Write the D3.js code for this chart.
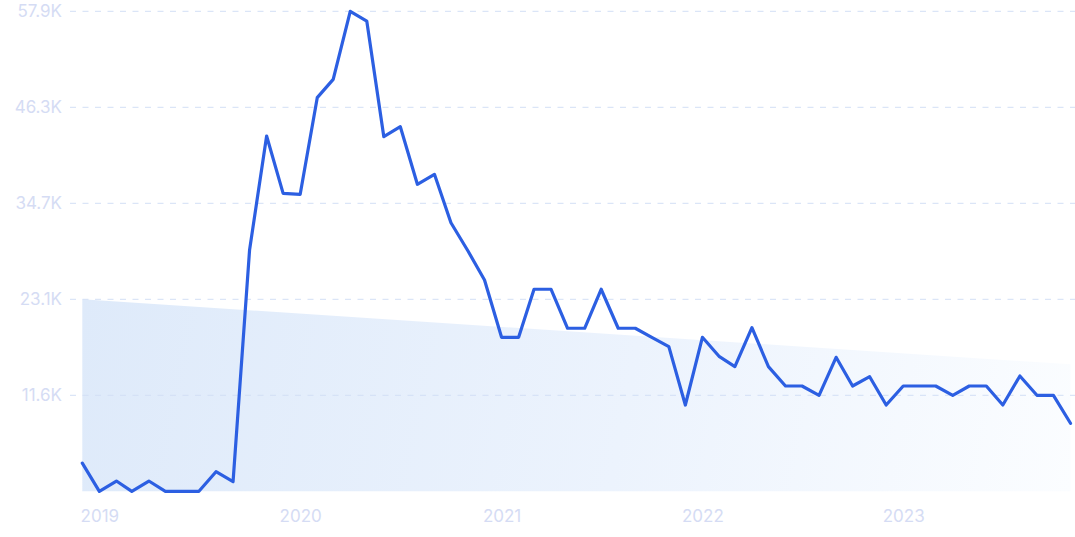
<!DOCTYPE html>
<html>
<head>
<meta charset="utf-8">
<script src="https://cdn.jsdelivr.net/npm/d3@7"></script>
<style>
  html, body { margin: 0; padding: 0; background: #ffffff; }
  svg { display: block; }
  text { font-family: Inter, "Noto Sans", sans-serif; }
</style>
</head>
<body>
<svg id="chart" width="1075" height="537"></svg>
<script>
// ---- data ----
const startMonth = "2018-12";
const values = [
  3400, 0, 1240, 0, 1240, 0, 0, 0, 2360, 1160,
  29080, 42820, 35900, 35790, 47440, 49650, 57850, 56680, 42740, 43940,
  37000, 38200, 32370, 28960, 25470, 18560, 18560, 24350, 24350, 19650,
  19650, 24350, 19650, 19650, 18560, 17430, 10400, 18560, 16220, 15020,
  19720, 15020, 12690, 12690, 11570, 16150, 12690, 13810, 10400, 12690,
  12690, 12690, 11570, 12690, 12690, 10400, 13900, 11570, 11570, 8200
];
const trendStart = 23140;
const trendEnd = 15300;
const yMax = 57850;
const yTickLabels = ["11.6K", "23.1K", "34.7K", "46.3K", "57.9K"];
const xTickYears = [2019, 2020, 2021, 2022, 2023];

// ---- build ----
(function () {
const parse = d3.timeParse("%Y-%m");
const d0 = parse(startMonth);
const data = values.map((v, i) => ({ date: d3.timeMonth.offset(d0, i), value: v }));

const svg = d3.select("#chart");
const mLeft = 82.3, mRight = 1070.5, mTop = 11.3, mBottom = 491.3;

const x = d3.scaleTime()
  .domain([data[0].date, data[data.length - 1].date])
  .range([mLeft, mRight]);
const y = d3.scaleLinear().domain([0, yMax]).range([mBottom, mTop]);

const defs = svg.append("defs");
const grad = defs.append("linearGradient")
  .attr("id", "areaGrad")
  .attr("gradientUnits", "userSpaceOnUse")
  .attr("x1", mLeft).attr("y1", y(trendStart))
  .attr("x2", mRight).attr("y2", mBottom);
grad.append("stop").attr("offset", "0%").attr("stop-color", "#deeafa");
grad.append("stop").attr("offset", "55%").attr("stop-color", "#ecf3fd");
grad.append("stop").attr("offset", "100%").attr("stop-color", "#fbfdff");

// trend area
const trend = [
  { date: data[0].date, value: trendStart },
  { date: data[data.length - 1].date, value: trendEnd }
];
svg.append("path")
  .datum(trend)
  .attr("fill", "url(#areaGrad)")
  .attr("d", d3.area().x(d => x(d.date)).y0(mBottom).y1(d => y(d.value)));

// gridlines + y labels
const yTicks = yTickLabels.map((l, i) => ({ label: l, value: yMax * (i + 1) / 5 }));
const yAxis = d3.axisLeft(y)
  .tickValues(yTicks.map(d => d.value))
  .tickFormat((d, i) => yTicks[i].label)
  .tickSize(0)
  .tickPadding(0);
const gy = svg.append("g").attr("transform", "translate(62,0)").call(yAxis);
gy.select(".domain").remove();
gy.selectAll("text")
  .attr("fill", "#d5dcf4")
  .attr("font-size", "17px")
  .attr("font-family", "Inter, 'Noto Sans', sans-serif");

svg.append("g").selectAll("line")
  .data(yTicks)
  .join("line")
  .attr("x1", 70).attr("x2", 1075)
  .attr("y1", d => y(d.value)).attr("y2", d => y(d.value))
  .attr("stroke", "#d3dff5")
  .attr("stroke-width", 1)
  .attr("stroke-dasharray", "6 6.5");

// x axis
const xAxis = d3.axisBottom(x)
  .tickValues(xTickYears.map(yr => new Date(yr, 0, 1)))
  .tickFormat(d3.timeFormat("%Y"))
  .tickSize(0)
  .tickPadding(0);
const gx = svg.append("g").attr("transform", "translate(0,510)").call(xAxis);
gx.select(".domain").remove();
gx.selectAll("text")
  .attr("fill", "#d5dcf4")
  .attr("font-size", "17px")
  .attr("font-family", "Inter, 'Noto Sans', sans-serif");

// line
svg.append("path")
  .datum(data)
  .attr("fill", "none")
  .attr("stroke", "#2c5fe2")
  .attr("stroke-width", 3.2)
  .attr("stroke-linejoin", "round")
  .attr("stroke-linecap", "round")
  .attr("d", d3.line().x(d => x(d.date)).y(d => y(d.value)));
})();
</script>
</body>
</html>
